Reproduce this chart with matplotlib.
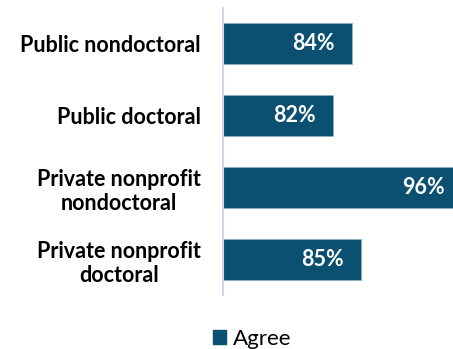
import matplotlib.pyplot as plt
from matplotlib.patches import Patch

categories = ["Public nondoctoral", "Public doctoral",
              "Private nonprofit\nnondoctoral", "Private nonprofit\ndoctoral"]
agree = [84, 82, 96, 85]

bar_color = "#0b4f71"

fig = plt.figure(figsize=(4.53, 3.49), dpi=100)
W, H = 453, 349
# axes spans past the right edge so the longest bar runs off the figure
ax = fig.add_axes([223 / W, 1 - 295 / H, (462 - 223) / W, (295 - 8) / H])

y = range(len(categories))
ax.barh(y, agree, left=0, height=0.57, color=bar_color,
        edgecolor="#8fb3c9", linewidth=0.6)
ax.set_xlim(70, 96)
ax.set_ylim(3.49, -0.49)

for yi, v in zip(y, agree):
    ax.annotate(f"{v}%", xy=(v, yi), xytext=(-12.5, 0), textcoords="offset points",
                ha="right", va="center", color="white", fontsize=15.5,
                fontweight="bold", family="Lato")

ax.set_yticks(list(y))
ax.set_yticklabels(categories, fontsize=15.5, fontweight="bold", family="Lato",
                   multialignment="center", linespacing=1.2)
ax.tick_params(axis="y", length=0, pad=16)
ax.set_xticks([])

for s in ["top", "right", "bottom"]:
    ax.spines[s].set_visible(False)
ax.spines["left"].set_color("#d4d4ee")
ax.spines["left"].set_linewidth(1.5)

fig.legend(handles=[Patch(color=bar_color, label="Agree")], loc="center",
           bbox_to_anchor=(252 / W, 1 - 339 / H), frameon=False,
           prop={"family": "Lato", "size": 16}, handlelength=0.6,
           handleheight=0.6, handletextpad=0.3)

fig.savefig("out.png", dpi=100)
